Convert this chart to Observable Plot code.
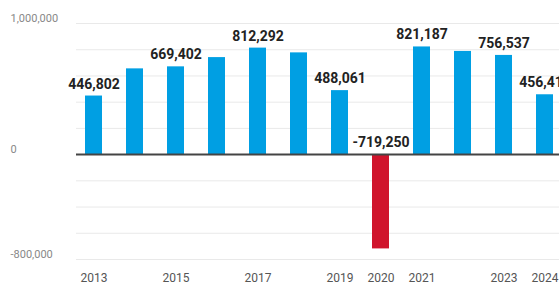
<!DOCTYPE html>
<html>
<head>
<meta charset="utf-8">
<script src="https://cdn.jsdelivr.net/npm/d3@7"></script>
<script src="https://cdn.jsdelivr.net/npm/@observablehq/plot@0.6"></script>
<style>
  html, body { margin: 0; padding: 0; background: #fff; overflow: hidden; }
</style>
</head>
<body>
<div id="chart"></div>
<script>
const years = ["2013","2014","2015","2016","2017","2018","2019","2020","2021","2022","2023","2024"];
const values = [446802, 654000, 669402, 740000, 812292, 776000, 488061, -719250, 821187, 787000, 756537, 456413];
const labeledYears = ["2013","2015","2017","2019","2020","2021","2023","2024"];
const yTickValues = [1000000, 0, -800000];
const gridValues = [1000000, 800000, 600000, 400000, 200000, -200000, -400000, -600000, -800000];

const data = years.map((y, i) => ({year: y, value: values[i]}));
const labeled = data.filter(d => labeledYears.includes(d.year));
const fmt = v => d3.format(",")(v).replace("\u2212", "-");

const chart = Plot.plot({
  width: 559,
  height: 286,
  marginLeft: 76,
  marginRight: 0,
  marginTop: 23,
  marginBottom: 27,
  style: {fontFamily: "Roboto, sans-serif", overflow: "hidden", background: "#fff"},
  x: {domain: years, range: [57.5, 580], padding: 0.59, axis: null},
  y: {domain: [-800000, 1000000], axis: null},
  marks: [
    Plot.ruleY(gridValues, {stroke: "#e9e9e9", strokeWidth: 1}),
    Plot.barY(data, {x: "year", y: "value", fill: d => d.value < 0 ? "#d0142c" : "#009fe3"}),
    Plot.ruleY([0], {stroke: "#444", strokeWidth: 2}),
    Plot.text(labeled, {
      x: "year", y: d => Math.max(d.value, 0), text: d => fmt(d.value),
      dy: -12, lineAnchor: "middle", fontSize: 14, fontWeight: "bold", fill: "#222"
    }),
    Plot.text(yTickValues, {
      y: d => d, text: d => fmt(d), frameAnchor: "left", textAnchor: "start",
      dx: -66, dy: -5, lineAnchor: "middle", fontSize: 11, fill: "#888"
    }),
    Plot.text(labeledYears, {
      x: d => d, text: d => d, frameAnchor: "bottom", dy: 19,
      lineAnchor: "middle", fontSize: 12, fill: "#555"
    })
  ]
});
document.getElementById("chart").appendChild(chart);
</script>
</body>
</html>
